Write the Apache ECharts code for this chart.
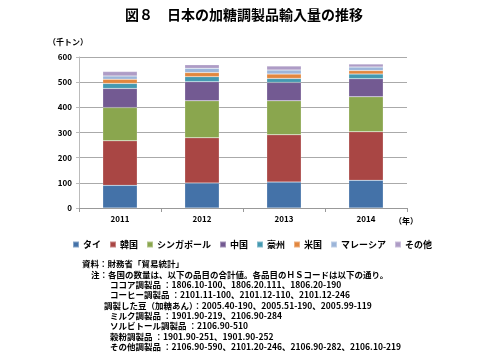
<!DOCTYPE html>
<html><head><meta charset="utf-8">
<script src="https://cdn.jsdelivr.net/npm/echarts@6/dist/echarts.min.js"></script>
<style>html,body{margin:0;padding:0;background:#fff}#c{width:488px;height:356px}</style>
</head><body><div id="c"></div>
<script>
const years = ['2011','2012','2013','2014'];
const seriesNames = ['タイ','韓国','シンガポール','中国','豪州','米国','マレーシア','その他'];
const thai      = [90, 99, 103, 110];
const korea     = [177, 180, 188, 193];
const singapore = [132, 147, 135, 139];
const china     = [76, 76, 73, 72];
const australia = [20, 20, 16, 18];
const usa       = [17, 16, 17, 14];
const malaysia  = [13, 17, 16, 14];
const others    = [17, 14, 16, 12];
const yTicks = [0, 100, 200, 300, 400, 500, 600];
const notes = [
  '資料：財務省「貿易統計」',
  '注：各国の数量は、以下の品目の合計値。各品目のＨＳコードは以下の通り。',
  'ココア調製品 ：1806.10-100、1806.20.111、1806.20-190',
  'コーヒー調製品 ：2101.11-100、2101.12-110、2101.12-246',
  '調製した豆（加糖あん）：2005.40-190、2005.51-190、2005.99-119',
  'ミルク調製品 ：1901.90-219、2106.90-284',
  'ソルビトール調製品 ：2106.90-510',
  '穀粉調製品 ：1901.90-251、1901.90-252',
  'その他調製品 ：2106.90-590、2101.20-246、2106.90-282、2106.10-219'
];

const allData = [thai, korea, singapore, china, australia, usa, malaysia, others];
const colors = ['#4472A8','#A94644','#8AA64E','#735A92','#4499B1','#E2873E','#9CB5D9','#AE9CC6'];
const font = '"Noto Sans CJK JP", "Noto Sans", sans-serif';

const chart = echarts.init(document.getElementById('c'), null, {renderer:'canvas'});
const noteX = [82, 91, 110, 110, 104, 110, 110, 110, 110];
const graphics = [
  {type:'text', left:'center', top:8, style:{text:'図８　日本の加糖調製品輸入量の推移', font:'bold 14px ' + font, fill:'#000'}},
  {type:'text', left:48, top:38, style:{text:'（千トン）', font:'bold 8px ' + font, fill:'#000'}},
  {type:'text', left:394, top:217, style:{text:'（年）', font:'bold 8px ' + font, fill:'#000'}}
];
notes.forEach((t,i)=>{
  graphics.push({type:'text', left:noteX[i], top:260 + i*10.3, style:{text:t, font:'bold 8.5px ' + font, fill:'#000'}});
});

chart.setOption({
  animation:false,
  color: colors,
  grid:{left:79, right:81, top:57, bottom:148},
  legend:{
    data: seriesNames, left:67, top:235, width:420, itemWidth:6, itemHeight:6, itemGap:8, icon:'rect',
    textStyle:{fontSize:9, fontWeight:'bold', fontFamily:font, color:'#000', padding:[0,0,0,-1]}
  },
  xAxis:{
    type:'category', data: years,
    axisLine:{lineStyle:{color:'#999', width:1}},
    axisTick:{show:true, length:4, lineStyle:{color:'#999'}},
    axisLabel:{fontSize:8, fontWeight:'bold', color:'#000', fontFamily:font, margin:7}
  },
  yAxis:{
    type:'value', min:yTicks[0], max:yTicks[yTicks.length-1], interval:100,
    axisLine:{show:true, lineStyle:{color:'#bbb'}},
    axisTick:{show:true, length:3, lineStyle:{color:'#bbb'}},
    axisLabel:{fontSize:8, fontWeight:'bold', color:'#000', fontFamily:font, margin:7},
    splitLine:{lineStyle:{color:'#aaa', width:1}}
  },
  series: seriesNames.map((n,i)=>({
    name:n, type:'bar', stack:'total', data: allData[i], barWidth:'42%',
    itemStyle:{borderColor:'rgba(255,255,255,0.35)', borderWidth:0.5}
  })),
  graphic: graphics
});
</script></body></html>
